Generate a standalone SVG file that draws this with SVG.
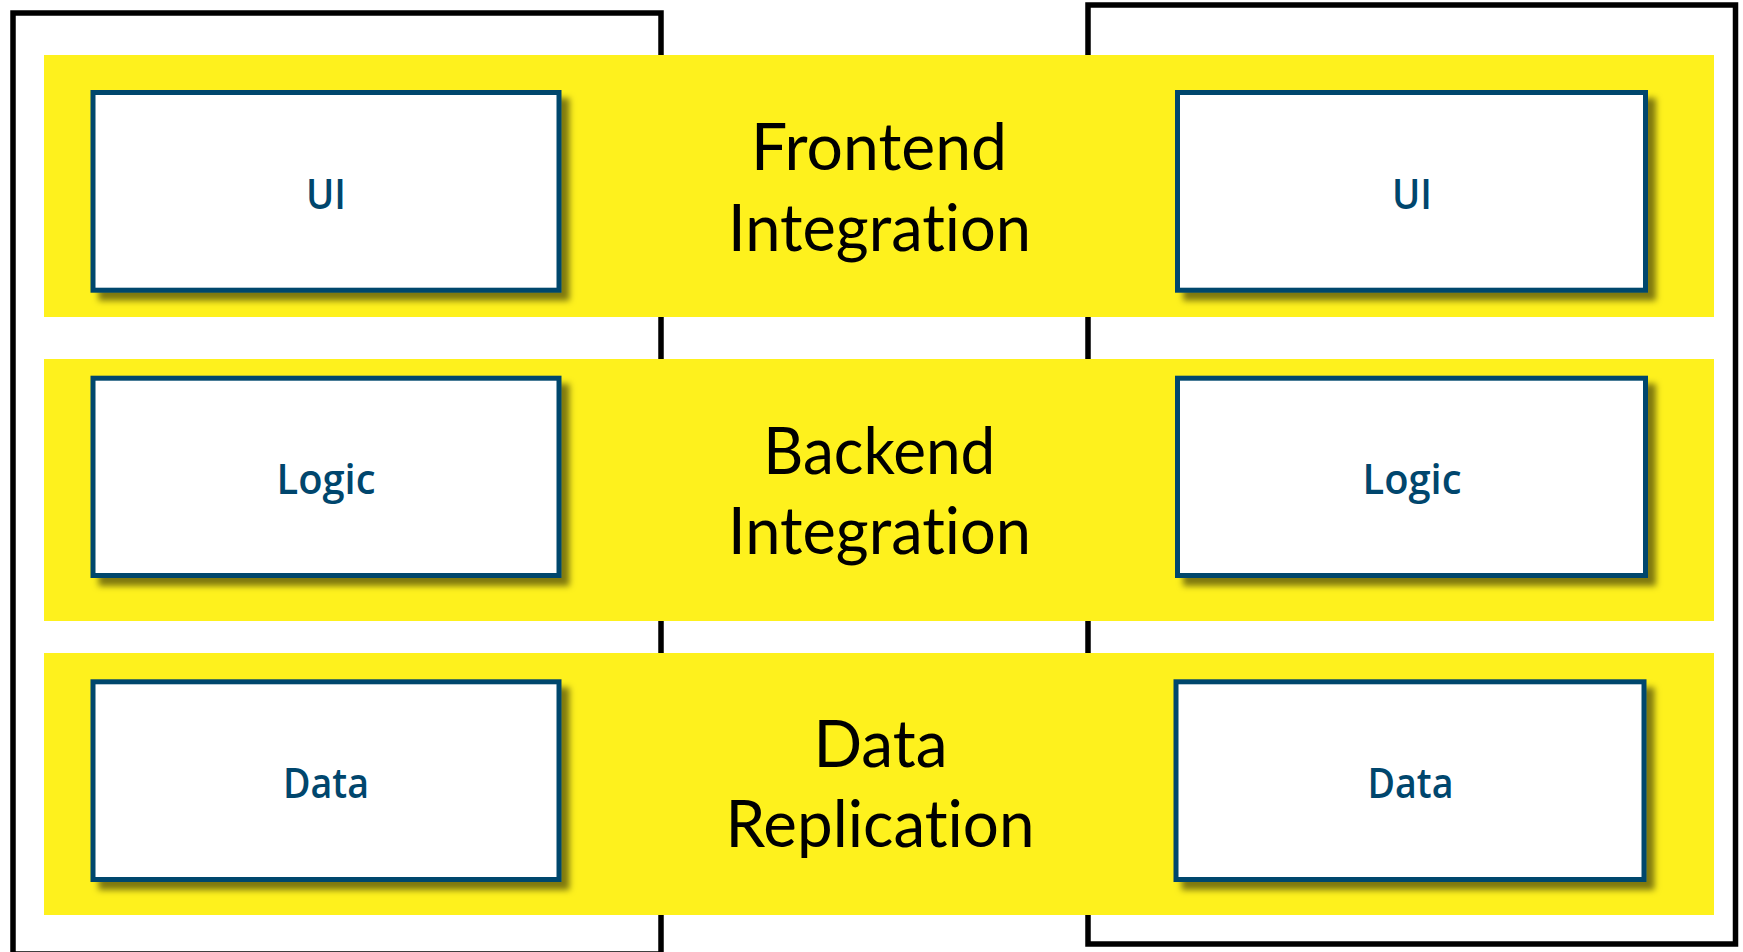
<svg xmlns="http://www.w3.org/2000/svg" width="1743" height="952" viewBox="0 0 1743 952">
  <defs>
    <filter id="shadow" x="-5%" y="-5%" width="115%" height="120%">
      <feDropShadow dx="8" dy="8" stdDeviation="3" flood-color="#000" flood-opacity="0.5"/>
    </filter>
  </defs>
  <style>
    .frame { fill: none; stroke: #000; stroke-width: 5.5; }
    .band { fill: #fef11d; }
    .node rect { fill: #fff; stroke: #00466d; stroke-width: 5; filter: url(#shadow); }
    .node text { font-family: "Open Sans", "Noto Sans", sans-serif; font-weight: 600; font-size: 41px; fill: #00466d; text-anchor: middle; }
    .title { font-family: Lato, "Noto Sans", sans-serif; font-weight: 400; font-size: 66px; fill: #000; text-anchor: middle; font-variant-ligatures: none; font-feature-settings: "liga" 0, "clig" 0; }
  </style>
  <rect width="1743" height="952" fill="#fff"/>
  <g id="frames">
    <rect id="frame-left" class="frame" x="13" y="13" width="648" height="941"/>
    <rect id="frame-right" class="frame" x="1088" y="5" width="647.5" height="939"/>
  </g>
  <g id="bands">
    <rect id="band-frontend" class="band" x="44" y="55" width="1670" height="262"/>
    <rect id="band-backend" class="band" x="44" y="359" width="1670" height="262"/>
    <rect id="band-data" class="band" x="44" y="653" width="1670" height="262"/>
  </g>
  <g id="labels">
    <g id="label-frontend">
      <text class="title" x="879" y="170" textLength="256" lengthAdjust="spacingAndGlyphs">Frontend</text>
      <text class="title" x="879.5" y="250.7" textLength="303" lengthAdjust="spacingAndGlyphs">Integration</text>
    </g>
    <g id="label-backend">
      <text class="title" x="879.3" y="474" textLength="232" lengthAdjust="spacingAndGlyphs">Backend</text>
      <text class="title" x="879.5" y="554" textLength="303" lengthAdjust="spacingAndGlyphs">Integration</text>
    </g>
    <g id="label-data">
      <text class="title" x="880.5" y="767.3" textLength="134" lengthAdjust="spacingAndGlyphs">Data</text>
      <text class="title" x="880" y="846.7" textLength="309" lengthAdjust="spacingAndGlyphs">Replication</text>
    </g>
  </g>
  <g id="node-ui-left" class="node">
    <rect x="93" y="92.5" width="466" height="197.7"/>
    <text x="326" y="209.3" textLength="40" lengthAdjust="spacingAndGlyphs">UI</text>
  </g>
  <g id="node-logic-left" class="node">
    <rect x="93" y="378.2" width="466" height="197.3"/>
    <text x="326" y="494" textLength="99" lengthAdjust="spacingAndGlyphs">Logic</text>
  </g>
  <g id="node-data-left" class="node">
    <rect x="93" y="681.8" width="466" height="197.7"/>
    <text x="326" y="798" textLength="86" lengthAdjust="spacingAndGlyphs">Data</text>
  </g>
  <g id="node-ui-right" class="node">
    <rect x="1177.5" y="92.5" width="468" height="197.7"/>
    <text x="1412" y="209.3" textLength="40" lengthAdjust="spacingAndGlyphs">UI</text>
  </g>
  <g id="node-logic-right" class="node">
    <rect x="1177.5" y="378.2" width="468" height="197.3"/>
    <text x="1412" y="494" textLength="99" lengthAdjust="spacingAndGlyphs">Logic</text>
  </g>
  <g id="node-data-right" class="node">
    <rect x="1176" y="681.8" width="468" height="197.7"/>
    <text x="1410.5" y="798" textLength="86" lengthAdjust="spacingAndGlyphs">Data</text>
  </g>
  <g id="connectors"></g>
</svg>
